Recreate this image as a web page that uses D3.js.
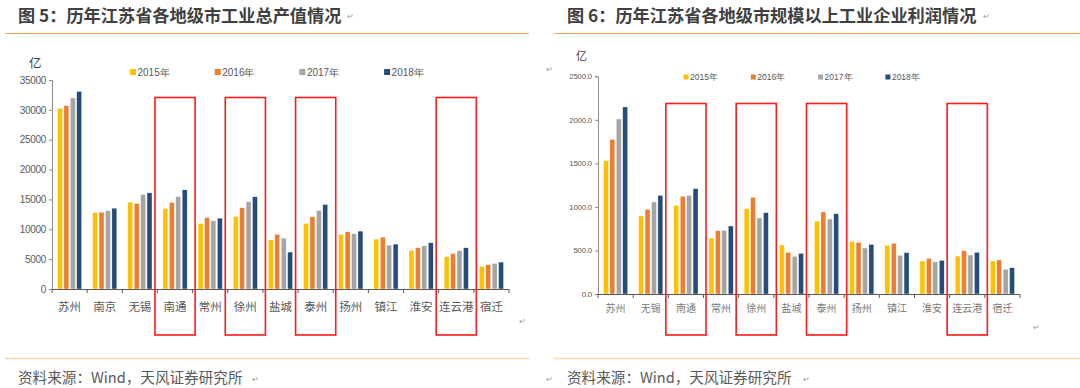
<!DOCTYPE html>
<html>
<head>
<meta charset="utf-8">
<script src="https://cdn.jsdelivr.net/npm/d3@7"></script>
<style>
  body { margin: 0; background: #fff; }
  svg { display: block; font-family: "Noto Sans CJK SC", "Noto Sans", sans-serif; }
</style>
</head>
<body>
<div id="chart"></div>
<script>
// ---- data ----
const years = ["2015年", "2016年", "2017年", "2018年"];
const colors = ["#ffc000", "#ed7d31", "#a5a5a5", "#264d79"];

// 图5: 工业总产值 (亿)
const outputCities = ["苏州", "南京", "无锡", "南通", "常州", "徐州", "盐城", "泰州", "扬州", "镇江", "淮安", "连云港", "宿迁"];
const output2015 = [30250, 12820, 14550, 13490, 10980, 12150, 8250, 10980, 9140, 8360, 6460, 5410, 3790];
const output2016 = [30700, 12870, 14320, 14490, 11980, 13600, 9140, 12090, 9590, 8690, 6910, 5960, 4070];
const output2017 = [31990, 13100, 15830, 15490, 11430, 14600, 8530, 13150, 9250, 7360, 7240, 6410, 4290];
const output2018 = [33100, 13540, 16100, 16610, 11870, 15440, 6190, 14160, 9700, 7520, 7750, 6910, 4510];
const outputTicks = [0, 5000, 10000, 15000, 20000, 25000, 30000, 35000];

// 图6: 规模以上工业企业利润 (亿)
const profitCities = ["苏州", "无锡", "南通", "常州", "徐州", "盐城", "泰州", "扬州", "镇江", "淮安", "连云港", "宿迁"];
const profit2015 = [1531, 896, 1018, 643, 980, 563, 838, 605, 559, 379, 436, 379];
const profit2016 = [1776, 972, 1122, 727, 1110, 479, 942, 593, 582, 410, 498, 391];
const profit2017 = [2010, 1057, 1133, 731, 873, 433, 861, 528, 444, 368, 448, 283];
const profit2018 = [2148, 1133, 1210, 781, 934, 467, 923, 570, 475, 387, 479, 302];
const profitTicks = [0, 500, 1000, 1500, 2000, 2500];

const highlighted = ["南通", "徐州", "泰州", "连云港"];

const svg = d3.select("#chart").append("svg")
  .attr("width", 1080).attr("height", 388);

// page decorations: titles, rules, source lines
function frame(x0, x1, title) {
  svg.append("text").attr("x", x0 + 13).attr("y", 21.5)
    .attr("font-size", 17.2).attr("font-weight", "bold").attr("fill", "#404040")
    .text(title);
  svg.append("line").attr("x1", x0).attr("x2", x1).attr("y1", 33.5).attr("y2", 33.5)
    .attr("stroke", "#f5a55c").attr("stroke-width", 1.2);
  svg.append("line").attr("x1", x0).attr("x2", x1).attr("y1", 358.5).attr("y2", 358.5)
    .attr("stroke", "#f9d6b6").attr("stroke-width", 1.5);
  svg.append("text").attr("x", x0 + 13).attr("y", 383)
    .attr("font-size", 14.6).attr("fill", "#595959")
    .text("资料来源：Wind，天风证券研究所");
}
frame(5, 529, "图 5：历年江苏省各地级市工业总产值情况");
frame(554, 1080, "图 6：历年江苏省各地级市规模以上工业企业利润情况");

// small paragraph marks
const marks = [[347, 19], [983, 19], [252, 382], [803, 382], [546, 382], [546, 72], [519, 324], [1033, 330]];
svg.selectAll("text.pm").data(marks).enter().append("text")
  .attr("class", "pm").attr("x", d => d[0]).attr("y", d => d[1])
  .attr("font-size", 8).attr("fill", "#9a9a9a").text("↵");

function barChart(opt) {
  const g = svg.append("g");
  const series = [opt.s2015, opt.s2016, opt.s2017, opt.s2018];

  const x = d3.scaleBand().domain(opt.cities).range([opt.left, opt.right]);
  const bw = x.bandwidth();
  const x1 = d3.scaleBand().domain(years).range([bw * 0.155, bw * 0.845]).paddingInner(0.22);
  const y = d3.scaleLinear().domain([0, opt.ticks[opt.ticks.length - 1]]).range([opt.bottom, opt.top]);

  // bars
  opt.cities.forEach((c, i) => {
    g.append("g").attr("transform", `translate(${x(c)},0)`)
      .selectAll("rect").data(years).enter().append("rect")
      .attr("x", yr => x1(yr))
      .attr("width", x1.bandwidth())
      .attr("y", (yr, k) => y(series[k][i]))
      .attr("height", (yr, k) => opt.bottom - y(series[k][i]))
      .attr("fill", (yr, k) => colors[k])
      .attr("stroke", "#fff").attr("stroke-width", 0.4);
  });

  // y axis
  const ya = g.append("g").attr("transform", `translate(${opt.left},0)`)
    .call(d3.axisLeft(y).tickValues(opt.ticks).tickSize(3).tickPadding(3).tickFormat(opt.fmt));
  ya.select(".domain").attr("stroke", "#8c8c8c");
  ya.selectAll(".tick line").attr("stroke", "#8c8c8c");
  ya.selectAll("text").attr("font-family", "Liberation Sans, Arial, sans-serif")
    .attr("font-size", opt.tickFont).attr("fill", "#595959").attr("letter-spacing", opt.tickSpacing);

  // x axis line + boundary ticks
  g.append("line").attr("x1", opt.left).attr("x2", opt.right)
    .attr("y1", opt.bottom + 0.5).attr("y2", opt.bottom + 0.5)
    .attr("stroke", "#595959").attr("stroke-width", 1.2);
  const bounds = opt.cities.map(c => x(c)).concat([opt.right]);
  g.selectAll("line.bt").data(bounds).enter().append("line")
    .attr("class", "bt").attr("x1", d => d).attr("x2", d => d)
    .attr("y1", opt.bottom).attr("y2", opt.bottom + 4)
    .attr("stroke", "#595959");
  g.selectAll("text.cat").data(opt.cities).enter().append("text")
    .attr("class", "cat").attr("x", c => x(c) + bw / 2).attr("y", opt.catY)
    .attr("text-anchor", "middle").attr("font-size", opt.catFont).attr("fill", opt.catColor)
    .text(c => c);

  // unit label
  g.append("text").attr("x", opt.unitX).attr("y", opt.unitY)
    .attr("font-size", opt.unitFont).attr("fill", "#404040").text("亿");

  // legend
  const lg = g.selectAll("g.lg").data(years).enter().append("g")
    .attr("transform", (d, k) => `translate(${opt.legX + k * opt.legStep},${opt.legY})`);
  lg.append("rect").attr("x", 0).attr("y", -opt.legSq / 2).attr("width", opt.legSq).attr("height", opt.legSq)
    .attr("fill", (d, k) => colors[k]);
  lg.append("text").attr("x", opt.legSq + 1.5).attr("dy", "0.35em")
    .attr("font-family", "Liberation Sans, Arial, sans-serif")
    .attr("font-size", opt.legFont).attr("fill", "#595959").text(d => d);

  // red highlight boxes
  g.selectAll("rect.hl").data(highlighted).enter().append("rect")
    .attr("class", "hl")
    .attr("x", c => x(c) - 2.5).attr("width", bw + 5)
    .attr("y", opt.boxTop).attr("height", 335 - opt.boxTop)
    .attr("fill", "none").attr("stroke", "#ff1a1a").attr("stroke-width", 1.6);
}

barChart({
  cities: outputCities, s2015: output2015, s2016: output2016, s2017: output2017, s2018: output2018,
  ticks: outputTicks, fmt: d3.format("d"),
  left: 52, right: 509, top: 80, bottom: 289,
  tickFont: 10, tickSpacing: -0.3, catFont: 11.5, catY: 311, catColor: "#595959",
  unitX: 29, unitY: 68, unitFont: 12.5,
  legX: 130, legY: 72, legStep: 84.7, legSq: 6, legFont: 10,
  boxTop: 97.5
});

barChart({
  cities: profitCities, s2015: profit2015, s2016: profit2016, s2017: profit2017, s2018: profit2018,
  ticks: profitTicks, fmt: d3.format(".1f"),
  left: 598, right: 1020, top: 76.3, bottom: 294,
  tickFont: 7.8, tickSpacing: -0.2, catFont: 10, catY: 312, catColor: "#7a7a7a",
  unitX: 576, unitY: 60, unitFont: 11,
  legX: 683.5, legY: 77, legStep: 67.3, legSq: 5, legFont: 8.5,
  boxTop: 103.5
});
</script>
</body>
</html>
